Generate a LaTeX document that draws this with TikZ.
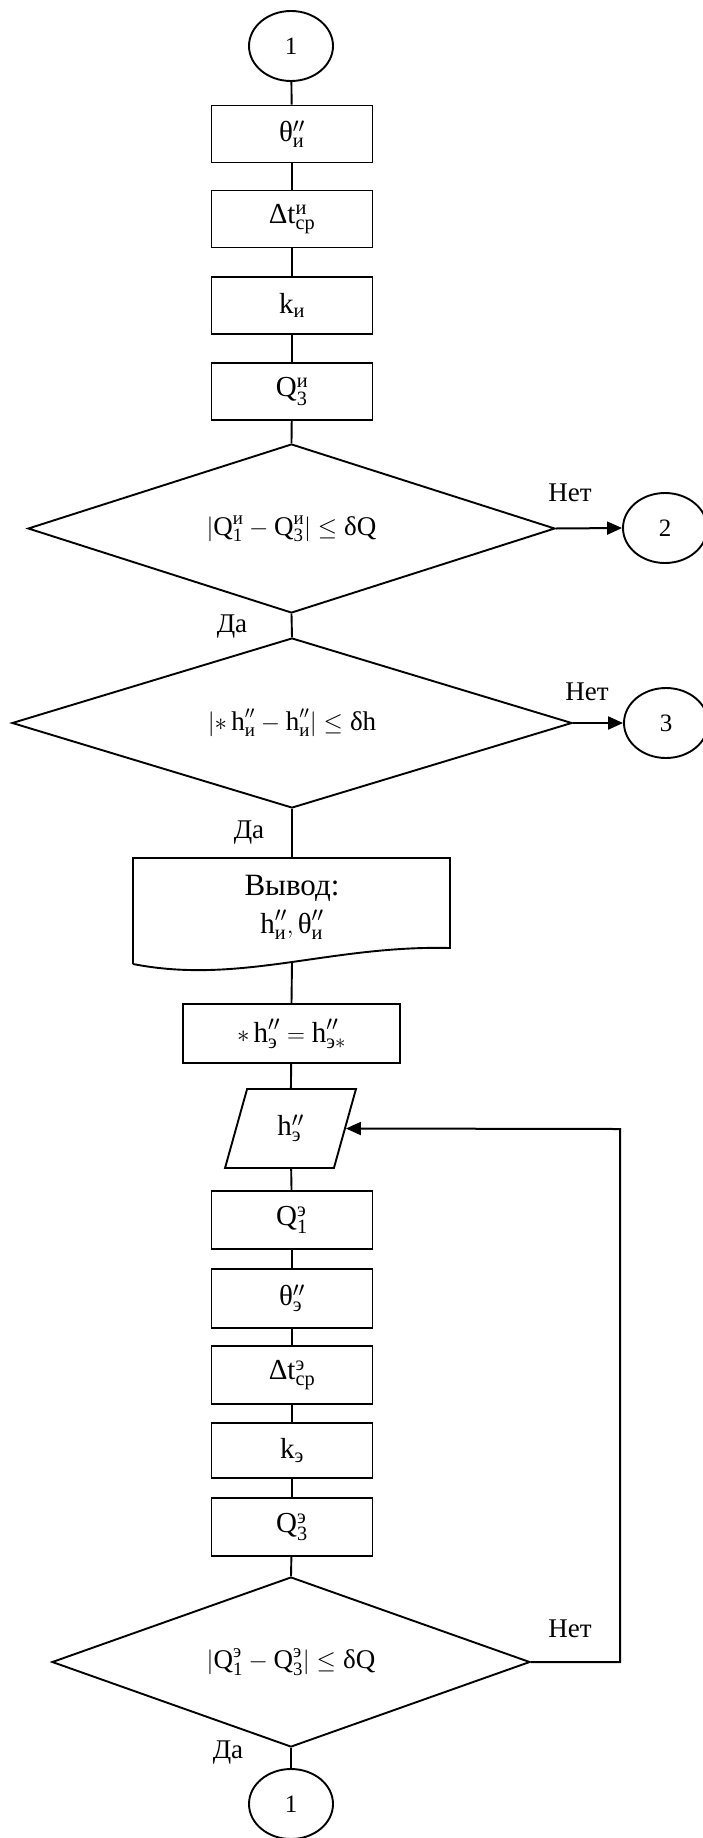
\documentclass[tikz,border=0pt]{standalone}
\usepackage{amsmath}
\usepackage{fontspec}
\setmainfont{Liberation Serif}
\usetikzlibrary{shapes.geometric,arrows.meta}

% upright text inside formulas
\newcommand{\tx}[1]{\text{#1}}
\newcommand{\pp}{\prime\prime}

\tikzset{
  conn/.style={line width=1.9pt},
  arr/.style={line width=2pt,-{Triangle[length=15pt,width=13pt]}},
  fml/.style={font=\fontsize{29}{32}\selectfont},
  dfml/.style={font=\fontsize{27}{30}\selectfont},
  lbl/.style={font=\fontsize{27}{30}\selectfont, inner sep=0pt},
  procbox/.style={draw, line width=1.9pt, rectangle, minimum width=161pt, minimum height=57pt, inner sep=0pt, fml},
  conbox/.style={draw, line width=1.9pt, ellipse, minimum width=84pt, minimum height=70pt, inner sep=0pt, font=\fontsize{25}{28}\selectfont},
  decbox/.style={draw, line width=1.9pt, diamond, aspect=3.2, inner sep=0pt, dfml},
  iobox/.style={draw, line width=1.9pt, trapezium, trapezium left angle=76, trapezium right angle=104,
    trapezium stretches=true, minimum width=131pt, minimum height=79pt, inner sep=0pt, fml},
}

\begin{document}
\begin{tikzpicture}[x=1pt,y=-1pt]
\useasboundingbox (0,0) rectangle (702,1838);

% entry connector and first block of calculations
\node[conbox] (c1) at (291,46) {1};
\node[procbox] (b1) at (292,134) {θ$^{\pp}_{\tx{и}}$};
\node[procbox] (b2) at (292,219) {Δt$^{\tx{и}}_{\tx{ср}}$};
\node[procbox] (b3) at (292,305.5) {k$_{\tx{и}}$};
\node[procbox] (b4) at (292,391.5) {Q$^{\tx{и}}_{\tx{3}}$};

% first check
\node[decbox, minimum width=527pt, minimum height=169pt] (d1) at (291.5,528.5)
  {$|\tx{Q}^{\tx{и}}_{\tx{1}} - \tx{Q}^{\tx{и}}_{\tx{3}}| \le \tx{δQ}$};
\node[conbox] (c2) at (665,528) {2};
\node[lbl] (n1) at (570,493) {Нет};
\node[lbl] (y1) at (232,627) {Да};

% second check
\node[decbox, minimum width=560pt, minimum height=170pt] (d2) at (292,723)
  {$|{*}\,\tx{h}^{\pp}_{\tx{и}} - \tx{h}^{\pp}_{\tx{и}}| \le \tx{δh}$};
\node[conbox] (c3) at (666,723) {3};
\node[lbl] (n2) at (587,692) {Нет};
\node[lbl] (y2) at (249,833) {Да};

% output document
\coordinate (dtl) at (133,858);
\coordinate (dtr) at (450,858);
\coordinate (dbr) at (450,948);
\coordinate (dbl) at (133,964);
\draw[line width=1.9pt, line join=miter] (dbl) -- (dtl) -- (dtr) -- (dbr)
  .. controls (330,945) and (240,985) .. (dbl);
\node[inner sep=0pt, font=\fontsize{31}{34}\selectfont] (out1) at (292,888) {Вывод:};
\node[inner sep=0pt, fml] (out2) at (292,925) {$\tx{h}^{\pp}_{\tx{и}}, \tx{θ}^{\pp}_{\tx{и}}$};
\coordinate (dtop) at (292,858);
\coordinate (dbot) at (292,962);

% initial guess and input
\node[procbox, minimum width=217pt, minimum height=59pt] (init) at (291.5,1033.5)
  {${*}\,\tx{h}^{\pp}_{\tx{э}} = \tx{h}^{\pp}_{\tx{э}*}$};
\node[iobox] (par) at (290.5,1128.5) {h$^{\pp}_{\tx{э}}$};

% second block of calculations
\node[procbox, minimum height=58pt] (e1) at (292,1220) {Q$^{\tx{э}}_{\tx{1}}$};
\node[procbox, minimum height=59pt] (e2) at (292,1298.5) {θ$^{\pp}_{\tx{э}}$};
\node[procbox, minimum height=58pt] (e3) at (292,1375) {Δt$^{\tx{э}}_{\tx{ср}}$};
\node[procbox, minimum height=55pt] (e4) at (292,1450.5) {k$_{\tx{э}}$};
\node[procbox, minimum height=58pt] (e5) at (292,1527) {Q$^{\tx{э}}_{\tx{3}}$};

% third check
\node[decbox, minimum width=478pt, minimum height=170pt] (d3) at (291,1662)
  {$|\tx{Q}^{\tx{э}}_{\tx{1}} - \tx{Q}^{\tx{э}}_{\tx{3}}| \le \tx{δQ}$};
\node[lbl] (n3) at (570,1629) {Нет};
\node[lbl] (y3) at (228,1753) {Да};
\node[conbox] (c4) at (291,1804) {1};
\coordinate (loopb) at (620,1662);
\coordinate (loopt) at (620,1129);

% connectors
\draw[conn] (c1) -- (b1);
\draw[conn] (b1) -- (b2);
\draw[conn] (b2) -- (b3);
\draw[conn] (b3) -- (b4);
\draw[conn] (b4) -- (d1.north);
\draw[arr] (d1.east) -- (c2.west);
\draw[conn] (d1.south) -- (d2.north);
\draw[arr] (d2.east) -- (c3.west);
\draw[conn] (d2.south) -- (dtop);
\draw[conn] (dbot) -- (init.north);
\draw[conn] (init) -- (par);
\draw[conn] (par) -- (e1);
\draw[conn] (e1) -- (e2);
\draw[conn] (e2) -- (e3);
\draw[conn] (e3) -- (e4);
\draw[conn] (e4) -- (e5);
\draw[conn] (e5) -- (d3.north);
\draw[conn] (d3.south) -- (c4.north);
\draw[arr] (d3.east) -- (loopb) -- (loopt) -- (par.east);
\end{tikzpicture}
\end{document}
